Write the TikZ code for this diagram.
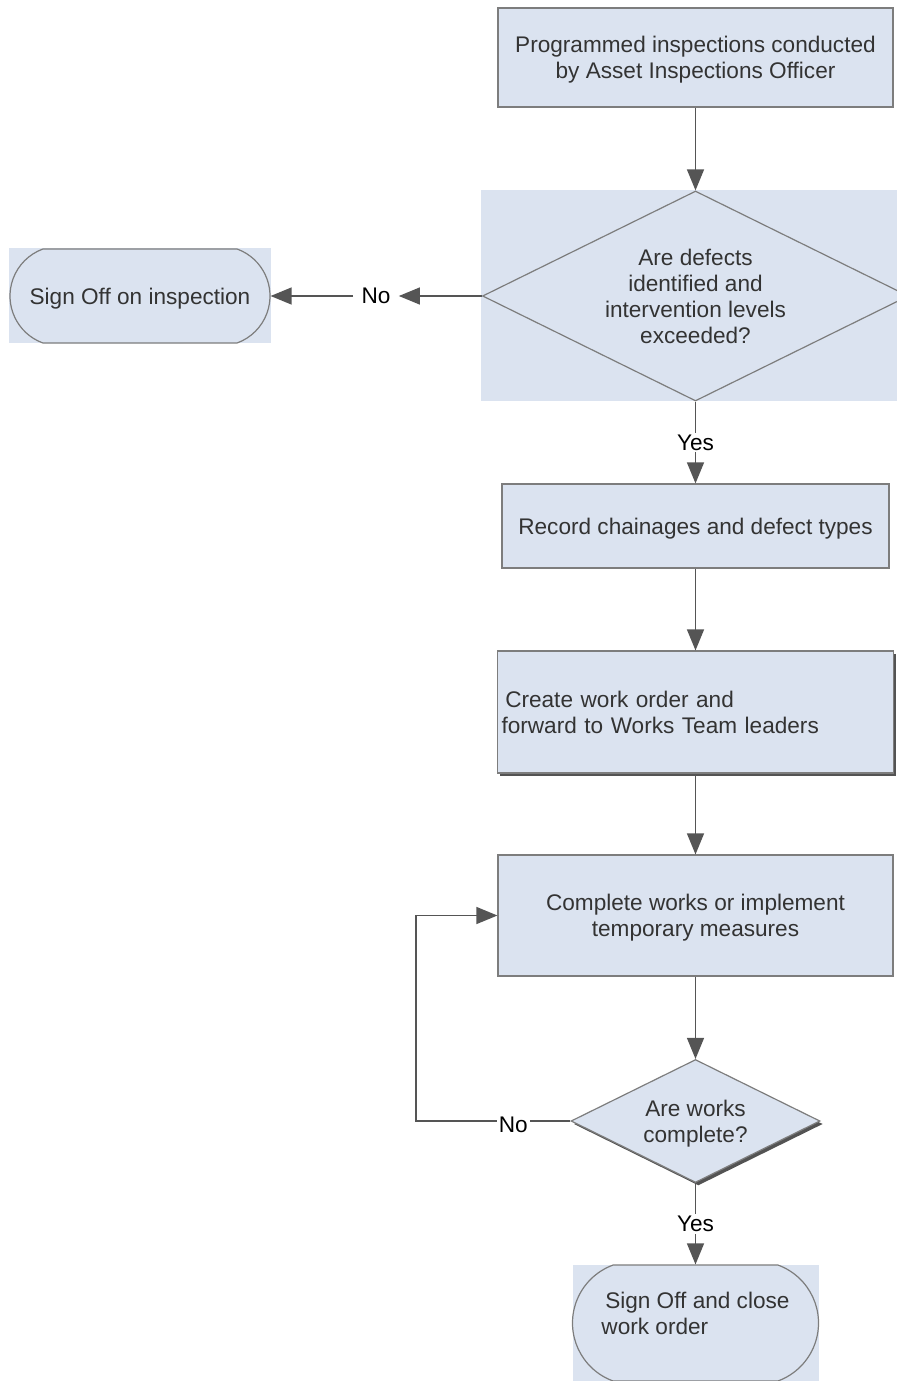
\documentclass[tikz,border=0pt]{standalone}
\usepackage{fontspec}
\setmainfont{Liberation Sans}
\usetikzlibrary{arrows.meta,shapes.geometric,shapes.misc,shadows}

\definecolor{boxblue}{RGB}{219,227,240}
\definecolor{edgegray}{RGB}{125,125,125}
\definecolor{arrowgray}{RGB}{85,85,85}
\definecolor{textgray}{RGB}{51,51,51}

\begin{document}
\begin{tikzpicture}[x=0.5pt, y=-0.5pt,
    every node/.style={font=\fontsize{11.3}{13}\selectfont},
    flowbox/.style={draw=edgegray, fill=boxblue, line width=0.6pt, text=textgray, align=center, inner sep=2pt, text depth=0pt},
    decision/.style={diamond, aspect=2, draw=edgegray, fill=boxblue, line width=0.6pt, text=textgray, align=center, inner sep=0pt, text depth=0pt},
    terminal/.style={rounded rectangle, rounded rectangle arc length=140, draw=edgegray, fill=boxblue, line width=0.6pt, text=textgray, inner sep=2pt, text depth=0pt},
    shadowed/.style={drop shadow={shadow xshift=1.4pt, shadow yshift=-1.5pt, fill=black!75, opacity=0.9}},
    flow/.style={draw=arrowgray, line width=0.65pt, -{Triangle[length=10.5pt, width=8.5pt]}},
    answer/.style={fill=white, text=black, inner sep=1pt}
]

    % ==========================================
    % PAGE AND COLUMN (pixel units of the sheet)
    % ==========================================
    \pgfmathsetmacro{\xc}{695.5}    % centre line of the main column
    \pgfmathsetmacro{\xloop}{416}   % x of the "No" return loop
    \useasboundingbox (0,0) rectangle (897,1381);
    \clip (0,0) rectangle (897,1381);

    % Shaded blocks behind the first decision and the terminals
    \fill[boxblue] (481,190) rectangle (897,401);
    \fill[boxblue] (9,248) rectangle (271,343);
    \fill[boxblue] (573,1265) rectangle (819,1381);

    % Main column
    \node[flowbox, minimum width=197.5pt, minimum height=49.5pt] (inspect) at (\xc, 57.5)
        {Programmed inspections conducted\\by Asset Inspections Officer};
    \node[decision, minimum width=213pt, minimum height=105pt] (defects) at (\xc, 296)
        {Are defects\\identified and\\intervention levels\\exceeded?};
    \node[flowbox, minimum width=193.5pt, minimum height=42pt] (record) at (\xc, 526)
        {Record chainages and defect types};
    \node[flowbox, shadowed, minimum width=198pt, minimum height=61pt, text width=194pt, align=left, text depth={}] (workorder) at (\xc, 712)
        {\,Create work order and\\forward to Works Team leaders};
    \node[flowbox, minimum width=197.5pt, minimum height=60.5pt] (complete) at (\xc, 915.5)
        {Complete works or implement\\temporary measures};
    \node[decision, shadowed, minimum width=124.5pt, minimum height=61.5pt] (worksdone) at (\xc, 1121)
        {Are works\\complete?};
    \node[terminal, minimum width=127pt, minimum height=58pt, align=left, text depth=10pt] (signclose) at (\xc, 1323)
        {\,Sign Off and close\\work order};

    % Side branch
    \node[terminal, minimum width=134pt, minimum height=47pt] (signinsp) at (140, 296) {Sign Off on inspection};
    \node[answer, inner xsep=4pt] (noinsp) at (376, 296) {No};

    % Connectors
    \draw[flow] (inspect.south) -- (defects.north);
    \draw[flow] (defects.west) -- (noinsp.east);
    \draw[flow] (noinsp.west) -- (signinsp.east);
    \draw[flow] (defects.south) -- node[answer] (yesrec) {Yes} (record.north);
    \draw[flow] (record.south) -- (workorder.north);
    \draw[flow] (workorder.south) -- (complete.north);
    \draw[flow] (complete.south) -- (worksdone.north);

    % Return loop and last step
    \coordinate (loopcorner) at (\xloop, 1121);
    \draw[flow] (worksdone.west) -- node[answer, pos=0.37, yshift=-2pt] (noloop) {No} (loopcorner) |- (complete.west);
    \draw[flow] (worksdone.south) -- node[answer] (yesclose) {Yes} (signclose.north);

\end{tikzpicture}
\end{document}
